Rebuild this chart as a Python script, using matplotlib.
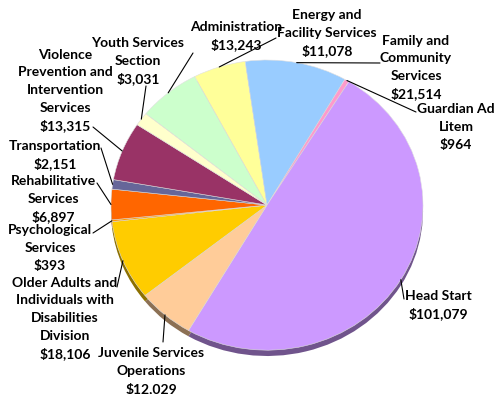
import matplotlib.pyplot as plt
import matplotlib.colors as mcolors
import numpy as np

# categories, clockwise from the top-left
categories = ['Administration', 'Energy and\nFacility Services', 'Family and\nCommunity\nServices',
              'Guardian Ad\nLitem', 'Head Start', 'Juvenile Services\nOperations',
              'Older Adults and\nIndividuals with\nDisabilities\nDivision', 'Psychological\nServices',
              'Rehabilitative\nServices', 'Transportation',
              'Violence\nPrevention and\nIntervention\nServices', 'Youth Services\nSection']
values = [13243, 11078, 21514, 964, 101079, 12029, 18106, 393, 6897, 2151, 13315, 3031]

colors = ['#ccffcc', '#ffff99', '#99ccff', '#ff99cc', '#cc99ff', '#ffcc99',
          '#ffcc00', '#ff9900', '#ff6600', '#666699', '#993366', '#ffffcc']

# label centre (px) and leader start (px) in figure pixels, top-down
label_pos = [(236, 36), (327, 33), (416, 67), (456, 127), (438, 305), (151, 371),
             (65, 318), (50, 248), (53, 199), (55, 155), (65, 90), (138, 61)]
leader_start = [(193, 53), (276, 38), (380, 63), (416, 112), (404, 299), (163, 342),
                (117, 287), (93, 233), (97, 183), (101, 148), (93, 127), (146, 86)]

W, H = 495, 394
LINE = 17.6  # label line pitch, px
fig = plt.figure(figsize=(W / 100, H / 100), dpi=100)

# pie axes stretched into an ellipse
pax = fig.add_axes([111 / W, (H - 356) / H, 312 / W, 296 / H])
startangle = 141
dark = [tuple(c * 0.55 for c in mcolors.to_rgb(col)) for col in colors]
pax.pie(values, colors=dark, startangle=startangle, counterclock=False,
        center=(0, -0.04), wedgeprops=dict(linewidth=0))
wedges, _ = pax.pie(values, colors=colors, startangle=startangle, counterclock=False,
                    wedgeprops=dict(linewidth=0.4, edgecolor='#e0e0e0'))
pax.set_aspect('auto')
pax.set_xlim(-1, 1)
pax.set_ylim(-1.04, 1)
pax.axis('off')

# overlay for labels and leader lines
ax = fig.add_axes([0, 0, 1, 1])
ax.set_xlim(0, W)
ax.set_ylim(H, 0)
ax.axis('off')
ax.patch.set_alpha(0)

for w, name, v, tp, ls in zip(wedges, categories, values, label_pos, leader_start):
    mid = np.deg2rad((w.theta1 + w.theta2) / 2)
    edge = (np.cos(mid), np.sin(mid))
    ax.annotate('', xy=edge, xycoords=pax.transData, xytext=ls, textcoords='data',
                arrowprops=dict(arrowstyle='-', color='black', lw=0.8, shrinkA=0, shrinkB=0))
    lines = f'{name}\n${v:,}'.split('\n')
    y0 = tp[1] - LINE * (len(lines) - 1) / 2
    for i, txt in enumerate(lines):
        ax.text(tp[0], y0 + i * LINE, txt, ha='center', va='center', fontsize=10,
                fontweight='bold', family='Lato', color='black')

fig.savefig('out.png', dpi=100)
